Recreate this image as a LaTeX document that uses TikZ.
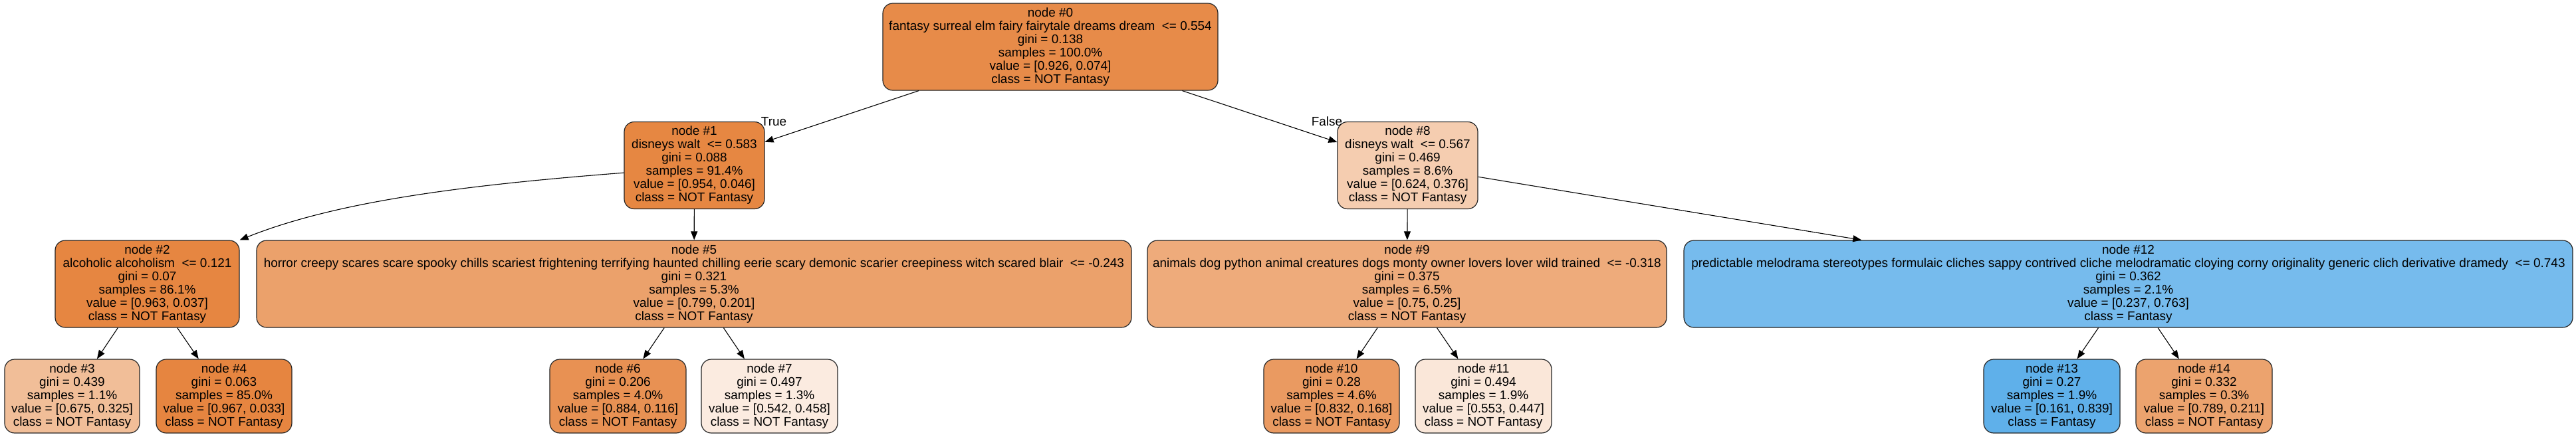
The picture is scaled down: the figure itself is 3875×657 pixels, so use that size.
\documentclass[tikz,border=0pt]{standalone}
\usepackage{fontspec}
\setmainfont{Liberation Sans}
\usetikzlibrary{arrows.meta}
\definecolor{cA}{RGB}{231,139,73}
\definecolor{cB}{RGB}{230,135,66}
\definecolor{cC}{RGB}{230,134,65}
\definecolor{cD}{RGB}{241,190,152}
\definecolor{cE}{RGB}{230,133,64}
\definecolor{cF}{RGB}{235,161,107}
\definecolor{cG}{RGB}{232,145,83}
\definecolor{cH}{RGB}{251,235,224}
\definecolor{cI}{RGB}{245,205,176}
\definecolor{cJ}{RGB}{238,171,123}
\definecolor{cK}{RGB}{234,154,97}
\definecolor{cL}{RGB}{250,231,217}
\definecolor{cM}{RGB}{118,187,237}
\definecolor{cN}{RGB}{95,176,234}
\definecolor{cO}{RGB}{236,163,110}
\begin{document}
\begin{tikzpicture}[x=1pt,y=-1pt,
  tn/.style={draw=black!85, line width=1.2pt, rounded corners=15pt, align=center,
    inner sep=0pt, font=\fontsize{18.95}{20}\selectfont, text=black},
  big/.style={minimum height=131pt},
  small/.style={minimum height=111pt},
  edge/.style={draw=black, line width=1.1pt, -{Triangle[length=13pt,width=10pt]}},
  lbl/.style={font=\fontsize{18.95}{20}\selectfont, inner sep=0pt}]
\useasboundingbox (0,0) rectangle (3875,657);
\fill[white] (0,0) rectangle (3875,657);

\node[tn,big,fill=cA,minimum width=504pt] (n0) at (1580,70.5)
  {node \#0\\fantasy surreal elm fairy fairytale dreams dream\ \ <= 0.554\\gini = 0.138\\samples = 100.0\%\\value = [0.926, 0.074]\\class = NOT Fantasy};

\node[tn,big,fill=cB,minimum width=211pt] (n1) at (1044.5,249)
  {node \#1\\disneys walt\ \ <= 0.583\\gini = 0.088\\samples = 91.4\%\\value = [0.954, 0.046]\\class = NOT Fantasy};

\node[tn,big,fill=cI,minimum width=211pt] (n8) at (2117.5,249)
  {node \#8\\disneys walt\ \ <= 0.567\\gini = 0.469\\samples = 8.6\%\\value = [0.624, 0.376]\\class = NOT Fantasy};

\node[tn,big,fill=cC,minimum width=277pt] (n2) at (221.5,427.5)
  {node \#2\\alcoholic alcoholism\ \ <= 0.121\\gini = 0.07\\samples = 86.1\%\\value = [0.963, 0.037]\\class = NOT Fantasy};

\node[tn,big,fill=cF,minimum width=1316pt] (n5) at (1044,427.5)
  {node \#5\\horror creepy scares scare spooky chills scariest frightening terrifying haunted chilling eerie scary demonic scarier creepiness witch scared blair\ \ <= -0.243\\gini = 0.321\\samples = 5.3\%\\value = [0.799, 0.201]\\class = NOT Fantasy};

\node[tn,big,fill=cJ,minimum width=781pt] (n9) at (2116.5,427.5)
  {node \#9\\animals dog python animal creatures dogs monty owner lovers lover wild trained\ \ <= -0.318\\gini = 0.375\\samples = 6.5\%\\value = [0.75, 0.25]\\class = NOT Fantasy};

\node[tn,big,fill=cM,minimum width=1337pt] (n12) at (3201.5,427.5)
  {node \#12\\predictable melodrama stereotypes formulaic cliches sappy contrived cliche melodramatic cloying corny originality generic clich derivative dramedy\ \ <= 0.743\\gini = 0.362\\samples = 2.1\%\\value = [0.237, 0.763]\\class = Fantasy};

\node[tn,small,fill=cD,minimum width=203pt] (n3) at (108.5,596.5)
  {node \#3\\gini = 0.439\\samples = 1.1\%\\value = [0.675, 0.325]\\class = NOT Fantasy};
\node[tn,small,fill=cE,minimum width=204pt] (n4) at (337,596.5)
  {node \#4\\gini = 0.063\\samples = 85.0\%\\value = [0.967, 0.033]\\class = NOT Fantasy};
\node[tn,small,fill=cG,minimum width=205pt] (n6) at (929.5,596.5)
  {node \#6\\gini = 0.206\\samples = 4.0\%\\value = [0.884, 0.116]\\class = NOT Fantasy};
\node[tn,small,fill=cH,minimum width=205pt] (n7) at (1157.5,596.5)
  {node \#7\\gini = 0.497\\samples = 1.3\%\\value = [0.542, 0.458]\\class = NOT Fantasy};
\node[tn,small,fill=cK,minimum width=204pt] (n10) at (2003,596.5)
  {node \#10\\gini = 0.28\\samples = 4.6\%\\value = [0.832, 0.168]\\class = NOT Fantasy};
\node[tn,small,fill=cL,minimum width=205pt] (n11) at (2231.5,596.5)
  {node \#11\\gini = 0.494\\samples = 1.9\%\\value = [0.553, 0.447]\\class = NOT Fantasy};
\node[tn,small,fill=cN,minimum width=205pt] (n13) at (3086.5,596.5)
  {node \#13\\gini = 0.27\\samples = 1.9\%\\value = [0.161, 0.839]\\class = Fantasy};
\node[tn,small,fill=cO,minimum width=205pt] (n14) at (3315.5,596.5)
  {node \#14\\gini = 0.332\\samples = 0.3\%\\value = [0.789, 0.211]\\class = NOT Fantasy};

\draw[edge] (n0) -- (n1);
\draw[edge] (n0) -- (n8);
\draw[edge] (n1.-174) .. controls +(-230,18) and +(150,-60) .. (n2.north east);
\draw[edge] (n1) -- (n5);
\draw[edge] (n8) -- (n9);
\draw[edge] (n8) -- (n12);
\draw[edge] (n2) -- (n3);
\draw[edge] (n2) -- (n4);
\draw[edge] (n5) -- (n6);
\draw[edge] (n5) -- (n7);
\draw[edge] (n9) -- (n10);
\draw[edge] (n9) -- (n11);
\draw[edge] (n12) -- (n13);
\draw[edge] (n12) -- (n14);

\node[lbl] (tl) at (1164,183) {True};
\node[lbl] (fl) at (1996,183) {False};
\end{tikzpicture}
\end{document}
